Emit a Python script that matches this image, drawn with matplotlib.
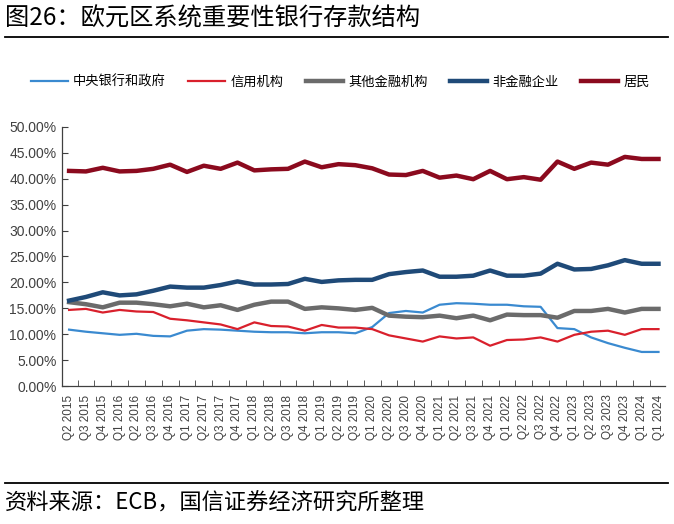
import matplotlib
matplotlib.use("Agg")
import matplotlib.pyplot as plt
import numpy as np

plt.rcParams['font.family'] = ['Liberation Sans', 'Noto Sans CJK SC', 'DejaVu Sans']

# quarter labels as printed on the axis
quarters = ["Q2 2015", "Q3 2015", "Q4 2015", "Q1 2016", "Q2 2016", "Q3 2016", "Q4 2016",
            "Q1 2017", "Q2 2017", "Q3 2017", "Q4 2017", "Q1 2018", "Q2 2018", "Q3 2018",
            "Q4 2018", "Q1 2019", "Q2 2019", "Q3 2019", "Q1 2020", "Q2 2020", "Q3 2020",
            "Q4 2020", "Q1 2021", "Q2 2021", "Q3 2021", "Q4 2021", "Q1 2022", "Q2 2022",
            "Q3 2022", "Q4 2022", "Q1 2023", "Q2 2023", "Q3 2023", "Q4 2023", "Q1 2024",
            "Q1 2024"]

# shares in %
central_gov = [10.9, 10.5, 10.2, 9.9, 10.1, 9.7, 9.6, 10.7, 11.0, 10.9, 10.7, 10.5,
               10.4, 10.4, 10.2, 10.4, 10.4, 10.2, 11.4, 14.1, 14.5, 14.2, 15.7, 16.0,
               15.9, 15.7, 15.7, 15.4, 15.3, 11.2, 11.0, 9.4, 8.3, 7.4, 6.6, 6.6]
credit_inst = [14.7, 14.9, 14.2, 14.7, 14.4, 14.3, 13.0, 12.7, 12.3, 11.9, 11.0, 12.3,
               11.6, 11.5, 10.7, 11.8, 11.3, 11.3, 11.0, 9.8, 9.2, 8.6, 9.6, 9.2,
               9.4, 7.8, 8.9, 9.0, 9.4, 8.6, 9.9, 10.5, 10.7, 9.9, 11.0, 11.0]
other_fin = [16.2, 15.8, 15.2, 16.1, 16.1, 15.8, 15.4, 15.9, 15.2, 15.6, 14.7, 15.7,
             16.3, 16.3, 14.9, 15.2, 15.0, 14.7, 15.1, 13.6, 13.4, 13.3, 13.6, 13.1,
             13.6, 12.7, 13.8, 13.7, 13.7, 13.2, 14.5, 14.5, 14.9, 14.2, 14.9, 14.9]
nonfin_corp = [16.5, 17.2, 18.1, 17.5, 17.7, 18.4, 19.2, 19.0, 19.0, 19.5, 20.2, 19.6,
               19.6, 19.7, 20.7, 20.1, 20.4, 20.5, 20.5, 21.6, 22.0, 22.3, 21.1, 21.1,
               21.3, 22.3, 21.3, 21.3, 21.7, 23.6, 22.5, 22.6, 23.3, 24.3, 23.6, 23.6]
households = [41.5, 41.4, 42.1, 41.4, 41.5, 41.9, 42.7, 41.3, 42.5, 41.9, 43.1, 41.6,
              41.8, 41.9, 43.3, 42.2, 42.8, 42.6, 42.0, 40.8, 40.7, 41.5, 40.2, 40.6,
              39.9, 41.5, 39.9, 40.3, 39.8, 43.3, 41.9, 43.1, 42.7, 44.2, 43.8, 43.8]

fig = plt.figure(figsize=(6.74, 5.24), dpi=100)
ax = fig.add_axes([0.092, 0.263, 0.895, 0.495])

x = np.arange(len(quarters))
ax.plot(x, np.array(central_gov) / 100, color="#3A8AD0", lw=1.6, label="中央银行和政府")
ax.plot(x, np.array(credit_inst) / 100, color="#D9202C", lw=1.6, label="信用机构")
ax.plot(x, np.array(other_fin) / 100, color="#6B6B6B", lw=3.2, label="其他金融机构")
ax.plot(x, np.array(nonfin_corp) / 100, color="#1F4A78", lw=3.2, label="非金融企业")
ax.plot(x, np.array(households) / 100, color="#8B0A1E", lw=3.2, label="居民")

ax.set_xlim(-0.42, len(quarters) - 0.6)
ax.set_ylim(0, 0.5)
ax.set_yticks(np.arange(0, 0.501, 0.05))
ax.set_yticklabels(["%.2f%%" % (v * 100) for v in np.arange(0, 0.501, 0.05)],
                   fontsize=10, color="#404040")
ax.set_xticks(x)
ax.set_xticklabels(quarters, rotation=90, fontsize=8.5, color="#404040")
ax.set_xticks(x[:-1] + 0.5, minor=True)
ax.tick_params(axis="x", which="major", length=0, pad=6)
ax.tick_params(axis="x", which="minor", length=4, direction="in", color="#404040")
ax.tick_params(axis="y", length=4, direction="in", color="#404040", pad=4)
for s in ["top", "right"]:
    ax.spines[s].set_visible(False)
for s in ["left", "bottom"]:
    ax.spines[s].set_color("#404040")
    ax.spines[s].set_linewidth(0.9)

fig.legend(loc="center", bbox_to_anchor=(0.505, 0.843), ncol=5, frameon=False,
           fontsize=9.5, handlelength=2.8, handletextpad=0.4, columnspacing=1.7)

# title, rules and source
fig.text(0.008, 0.964, "图26：欧元区系统重要性银行存款结构", fontsize=17.5,
         family=["Noto Sans CJK SC"], va="center", ha="left")
fig.add_artist(plt.Line2D([0.008, 0.991], [0.929, 0.929], color="black", lw=1.3))
fig.add_artist(plt.Line2D([0.008, 0.991], [0.078, 0.078], color="black", lw=1.3))
fig.text(0.008, 0.040, "资料来源：ECB，国信证券经济研究所整理", fontsize=16,
         family=["Noto Sans CJK SC"], va="center", ha="left")

fig.savefig("out.png", dpi=100)
